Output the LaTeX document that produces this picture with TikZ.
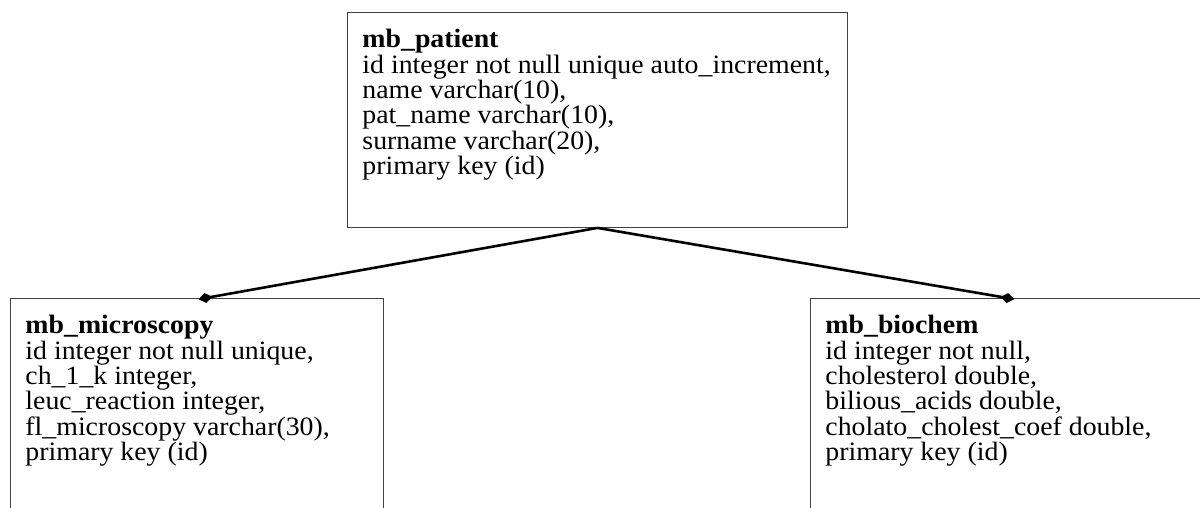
\documentclass[tikz,border=0pt]{standalone}
\usepackage{fontspec}
\setmainfont{Liberation Serif}[FakeStretch=1.05]
\usetikzlibrary{arrows.meta}

\tikzset{table/.style={draw=black!75,line width=0.9pt,inner sep=15pt,anchor=north west,
                       font=\fontsize{26.5}{25.3}\selectfont},
         relation/.style={line width=2.6pt,-{Diamond[length=14pt,width=10pt]},shorten >=-7pt}}

\begin{document}
\begin{tikzpicture}[x=1pt,y=-1pt]
  \useasboundingbox (0,0) rectangle (1200,508);

  % tables
  \node[table] (patient) at (347,12) {\parbox[c][185pt][t]{470pt}{%
    \vspace*{2pt}%
    \textbf{mb\_patient}\\
    id integer not null unique auto\_increment,\\
    name varchar(10),\\
    pat\_name varchar(10),\\
    surname varchar(20),\\
    primary key (id)}};
  \node[table] (micro) at (10,298) {\parbox[c][230pt][t]{343pt}{%
    \vspace*{2pt}%
    \textbf{mb\_microscopy}\\
    id integer not null unique,\\
    ch\_1\_k integer,\\
    leuc\_reaction integer,\\
    fl\_microscopy varchar(30),\\
    primary key (id)}};
  \node[table] (biochem) at (810,298) {\parbox[c][230pt][t]{364pt}{%
    \vspace*{2pt}%
    \textbf{mb\_biochem}\\
    id integer not null,\\
    cholesterol double,\\
    bilious\_acids double,\\
    cholato\_cholest\_coef double,\\
    primary key (id)}};

  % relations
  \draw[relation] (patient.south) -- ([xshift=8.5pt]micro.north);
  \draw[relation] (patient.south) -- (biochem.north);
\end{tikzpicture}
\end{document}
